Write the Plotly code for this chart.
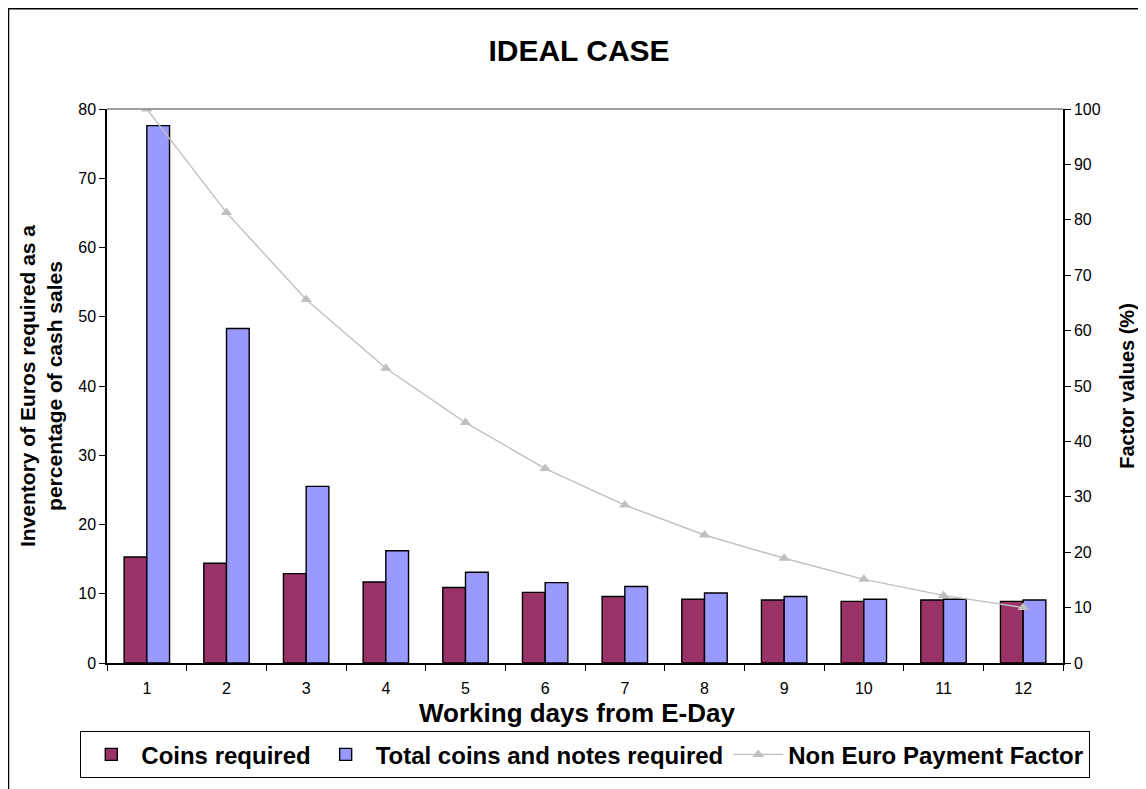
import plotly.graph_objects as go

days = [str(d) for d in range(1, 13)]
coins_required = [15.3, 14.4, 12.9, 11.7, 10.9, 10.2, 9.6, 9.2, 9.1, 8.9, 9.1, 8.9]
total_required = [77.6, 48.3, 25.5, 16.2, 13.1, 11.6, 11.05, 10.1, 9.6, 9.2, 9.2, 9.1]
non_euro_factor = [100, 81.3, 65.6, 53.2, 43.4, 35.1, 28.5, 23.1, 18.9, 15.1, 12.2, 10.0]

# page has an 8px body margin, so the figure is 8px smaller than the window
W, H = 1138, 781
L, R, T, B = 99, 83, 101, 125
pw, ph = W - L - R, H - T - B

def px(x):
    return (x - L) / pw

def py(y):
    return (H - B - y) / ph

font = "Liberation Sans, Arial, sans-serif"

fig = go.Figure()
fig.add_trace(go.Bar(x=days, y=coins_required, name="Coins required",
                     marker=dict(color="#993366", line=dict(color="black", width=1.4))))
fig.add_trace(go.Bar(x=days, y=total_required, name="Total coins and notes required",
                     marker=dict(color="#9999FF", line=dict(color="black", width=1.4))))
fig.add_trace(go.Scatter(x=days, y=non_euro_factor, name="Non Euro Payment Factor",
                         yaxis="y2", mode="lines+markers",
                         line=dict(color="#C0C0C0", width=1.4),
                         marker=dict(symbol="triangle-up", size=10, color="#C0C0C0")))

fig.update_layout(
    width=W, height=H,
    margin=dict(l=L, r=R, t=T, b=B),
    paper_bgcolor="white", plot_bgcolor="white",
    font=dict(family=font, color="black", size=16),
    barmode="group", bargap=0.43, bargroupgap=0,
    title=dict(text="<b>IDEAL CASE</b>", x=px(579 - 8), xanchor="center", xref="paper",
               y=1 - 42 / H, yanchor="middle", font=dict(size=30, family=font)),
    xaxis=dict(type="category", range=[-0.5, 11.5], autorange=False,
               showline=True, linecolor="black", linewidth=1.5,
               ticks="outside", tickson="boundaries", ticklen=6, tickcolor="black",
               ticklabelstandoff=10,
               showgrid=False, tickfont=dict(size=16)),
    yaxis=dict(range=[0, 80], dtick=10, showline=True, linecolor="black", linewidth=1.5,
               ticks="outside", ticklen=6, tickcolor="black", showgrid=False,
               zeroline=False, tickfont=dict(size=16),
               title=dict(text="<b>Inventory of Euros required as a<br>percentage of cash sales</b>",
                          font=dict(size=21), standoff=10)),
    yaxis2=dict(range=[0, 100], dtick=10, overlaying="y", side="right",
                showline=True, linecolor="black", linewidth=1.5,
                ticks="outside", ticklen=6, tickcolor="black", showgrid=False,
                zeroline=False, tickfont=dict(size=16),
                title=dict(text="<b>Factor values (%)</b>", font=dict(size=20), standoff=20)),
    legend=dict(orientation="h", xref="paper", yref="paper",
                x=px(80 - 8), xanchor="left",
                y=py(731 - 8), yanchor="top",
                bordercolor="black", borderwidth=1.3, bgcolor="white",
                font=dict(size=24, family=font, weight="bold"),
                itemwidth=50, tracegroupgap=0),
    annotations=[
        dict(text="<b>Working days from E-Day</b>", xref="paper", yref="paper",
             x=px(577 - 8), y=py(714 - 8), xanchor="center", yanchor="middle",
             showarrow=False, font=dict(size=26, family=font)),
    ],
    shapes=[
        dict(type="rect", xref="paper", yref="paper",
             x0=px(0), x1=px(1160), y0=py(800), y1=py(0),
             line=dict(color="black", width=2.5), fillcolor="rgba(0,0,0,0)", layer="below"),
        dict(type="line", xref="paper", yref="paper", x0=0, x1=1, y0=1, y1=1,
             line=dict(color="#808080", width=1.5)),
    ],
)

fig.write_html("out.html")
